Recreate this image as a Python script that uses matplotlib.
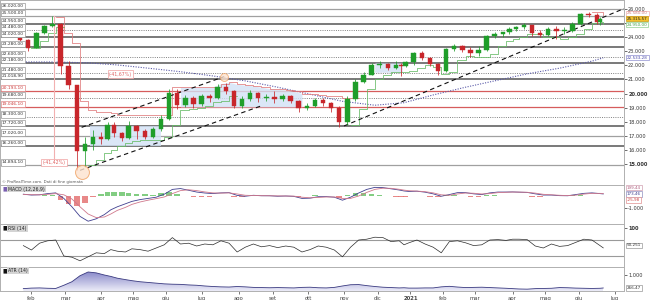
import numpy as np
import matplotlib
matplotlib.use("Agg")
import matplotlib.pyplot as plt
from matplotlib.patches import Rectangle
from matplotlib.colors import LinearSegmentedColormap

# trading-day axis (Borsa Italiana), index 0 = 3 Feb 2020
START = "2020-02-03"
HOLIDAYS = ["2020-04-10", "2020-04-13", "2020-05-01", "2020-12-24", "2020-12-25",
            "2020-12-31", "2021-01-01", "2021-04-02", "2021-04-05"]

# weekly candles (last session of each week)
dates = ["2020-01-24", "2020-01-31", "2020-02-07", "2020-02-14", "2020-02-21", "2020-02-28", "2020-03-06", "2020-03-13", "2020-03-20", "2020-03-27",
         "2020-04-03", "2020-04-09", "2020-04-17", "2020-04-24", "2020-04-30", "2020-05-08", "2020-05-15", "2020-05-22", "2020-05-29", "2020-06-05",
         "2020-06-12", "2020-06-19", "2020-06-26", "2020-07-03", "2020-07-10", "2020-07-17", "2020-07-24", "2020-07-31", "2020-08-07", "2020-08-14",
         "2020-08-21", "2020-08-28", "2020-09-04", "2020-09-11", "2020-09-18", "2020-09-25", "2020-10-02", "2020-10-09", "2020-10-16", "2020-10-23",
         "2020-10-30", "2020-11-06", "2020-11-13", "2020-11-20", "2020-11-27", "2020-12-04", "2020-12-11", "2020-12-18", "2020-12-23", "2020-12-30",
         "2021-01-08", "2021-01-15", "2021-01-22", "2021-01-29", "2021-02-05", "2021-02-12", "2021-02-19", "2021-02-26", "2021-03-05", "2021-03-12",
         "2021-03-19", "2021-03-26", "2021-04-01", "2021-04-09", "2021-04-16", "2021-04-23", "2021-04-30", "2021-05-07", "2021-05-14", "2021-05-21",
         "2021-05-28", "2021-06-04", "2021-06-11", "2021-06-18", "2021-06-22"]
open0 = 23950
closes = [23800, 23250, 24300, 24800, 24950, 21980, 20600, 15950, 16450, 16900,
          16800, 17800, 17200, 16850, 17700, 17350, 16900, 17450, 18200, 20050,
          19200, 19650, 19250, 19800, 19650, 20450, 20150, 19100, 19600, 20050,
          19700, 19750, 19600, 19800, 19500, 18950, 19150, 19550, 19300, 19000,
          17950, 19600, 20850, 21350, 22050, 22100, 21800, 22000, 21950, 22250,
          22850, 22550, 22100, 21600, 23150, 23400, 23100, 22850, 23100, 24050,
          24250, 24350, 24600, 24750, 24850, 24300, 24150, 24600, 24450, 24450,
          24950, 25650, 25550, 25100, 25315.57]
highs = [24050, 23900, 24350, 24850, 25480, 25000, 22300, 20600, 16900, 17400,
         17300, 17950, 17950, 17300, 18050, 17800, 17450, 17650, 18450, 20350,
         20300, 19900, 19800, 19950, 20000, 20700, 20750, 20250, 19800, 20250,
         20100, 20000, 20200, 19950, 19900, 19550, 19350, 19650, 19700, 19400,
         19100, 19800, 21000, 21550, 22200, 22300, 22200, 22300, 22150, 22300,
         22950, 23050, 22600, 22200, 23200, 23550, 23450, 23300, 23400, 24150,
         24350, 24400, 24700, 24800, 25000, 24900, 24500, 24750, 24800, 24700,
         25050, 25750, 25800, 25750, 25400]
lows = [23600, 23000, 23200, 24250, 24750, 21400, 20300, 14600, 14800, 16000,
        16400, 16700, 16900, 16600, 16750, 16800, 16750, 16850, 17350, 18150,
        18900, 19050, 19000, 19100, 19400, 19600, 20000, 18950, 18950, 19500,
        19400, 19500, 19350, 19450, 19300, 18700, 18800, 19050, 19150, 18700,
        17650, 17800, 19500, 20750, 21300, 21800, 21700, 21750, 21250, 21900,
        22050, 22400, 21950, 21300, 21550, 23000, 22950, 22600, 22700, 23000,
        23950, 24000, 24250, 24450, 24600, 24050, 24000, 24050, 23900, 24250,
        24350, 24900, 25400, 24950, 24900]
nan = np.nan
red_band = [nan, nan, nan, nan, 25400, 24300, 23600, 19500, 18850, 18700,
            18700, 18600, 18500, 18500, 18500, 18500, 18500, 18500, 18500, 20450,
            20450, 20450, 20450, 20450, 20450, 20700, 20800, 20650, 20600, 20550,
            20450, 20350, 20300, 20250, 20150, 20000, 19950, 19900, 19850, 19800,
            19700, 19650, nan, nan, nan, nan, nan, nan, nan, nan,
            nan, nan, nan, nan, nan, nan, nan, nan, nan, nan,
            nan, nan, nan, nan, nan, nan, nan, nan, nan, nan,
            nan, nan, 25800, 25800, 25580]
green_band = [23300, 23200, 23700, 24300, 24700, nan, nan, nan, 14950, 15300,
              15800, 16000, 16300, 16500, 16600, 16700, 16700, 16700, 16900, 17800,
              18800, 18900, 18950, 19100, 19400, 19500, 19800, nan, nan, nan,
              nan, nan, nan, nan, nan, nan, nan, nan, nan, nan,
              nan, 17800, 18900, 20300, 21000, 21300, 21500, 21500, 21500, 21600,
              21800, 22000, 21900, 21400, 21500, 22400, 22700, 22600, 22600, 22800,
              23400, 23700, 23900, 24000, 24200, 24200, 24000, 24000, 23900, 24000,
              24200, 24600, 25000, 25100, 24950]
ma_dates = ["2020-01-24", "2020-02-21", "2020-03-20", "2020-04-17", "2020-05-15", "2020-06-12", "2020-07-10",
            "2020-08-07", "2020-09-04", "2020-10-02", "2020-10-30", "2020-11-27", "2020-12-23", "2021-01-22",
            "2021-02-19", "2021-03-19", "2021-04-16", "2021-05-14", "2021-06-11", "2021-06-22"]
ma200 = [22240, 22240, 22180, 22030, 21800, 21550, 21250, 20900, 20450, 19950,
         19450, 19170, 19350, 19900, 20450, 20950, 21400, 21800, 22300, 22533.28]

macd = [150, 80, 100, 200, 260, -200, -900, -1700, -2100, -1900,
        -1550, -1150, -900, -650, -450, -300, -200, -100, 150, 550,
        620, 480, 330, 250, 200, 260, 280, 50, -20, 60,
        20, 20, -20, 0, -30, -200, -180, -60, -50, -100,
        -350, -100, 250, 550, 720, 700, 600, 500, 420, 380,
        400, 320, 180, -20, 120, 280, 280, 180, 120, 260,
        330, 330, 340, 320, 300, 180, 80, 80, 30, 20,
        120, 220, 260, 200, 173.46]
signal = [120, 110, 100, 140, 200, 100, -250, -900, -1500, -1800,
          -1750, -1500, -1200, -950, -700, -500, -350, -220, -80, 200,
          450, 520, 450, 340, 260, 240, 260, 170, 60, 40,
          30, 20, 10, 0, -10, -100, -150, -120, -80, -80,
          -200, -200, 0, 300, 550, 650, 640, 560, 490, 440,
          410, 360, 260, 100, 60, 170, 250, 230, 170, 200,
          280, 310, 330, 325, 310, 240, 140, 100, 60, 35,
          70, 160, 220, 220, 199.44]
rsi = [56, 45, 62, 68, 70, 30, 27, 18, 28, 38,
       36, 46, 42, 40, 48, 46, 42, 50, 58, 76,
       60, 62, 55, 60, 58, 68, 62, 40, 52, 60,
       53, 56, 51, 55, 52, 40, 46, 55, 52, 45,
       28, 52, 70, 72, 77, 76, 66, 68, 58, 63,
       70, 60, 52, 38, 66, 68, 63, 56, 58, 70,
       71, 69, 72, 72, 71, 55, 50, 60, 54, 56,
       64, 72, 70, 56, 50.251]
atr = [230, 260, 270, 250, 240, 420, 620, 960, 1170, 1120,
       1000, 920, 820, 740, 680, 620, 580, 540, 500, 480,
       470, 440, 420, 380, 350, 330, 320, 350, 330, 300,
       290, 280, 290, 280, 270, 300, 310, 280, 270, 300,
       380, 450, 460, 400, 350, 310, 290, 270, 280, 260,
       260, 270, 270, 330, 360, 320, 290, 300, 310, 290,
       270, 250, 230, 210, 200, 230, 240, 250, 290, 280,
       260, 250, 240, 250, 266.47]

# horizontal levels: price, style
levels = [(26020.00, "g"), (25500.00, "g"), (24950.00, "d"), (24480.00, ":"), (24020.00, "d"),
          (23280.00, "d"), (22600.00, ":"), (22180.00, "d"), (21480.00, ":"), (21018.90, "d"),
          (20193.10, "r"), (19680.00, ":"), (19046.10, "r"), (18300.00, ":"), (17720.00, "d"),
          (17020.00, "g"), (16260.00, "d"), (14894.10, "g")]
trendlines = [(("2020-03-16", "2020-07-21"), (17600, 21200)),
              (("2020-03-13", "2020-08-21"), (14550, 19130)),
              (("2020-11-02", "2021-07-09"), (17700, 26040))]
month_starts = ["2020-02-01", "2020-03-01", "2020-04-01", "2020-05-01", "2020-06-01", "2020-07-01",
                "2020-08-01", "2020-09-01", "2020-10-01", "2020-11-01", "2020-12-01", "2021-01-01",
                "2021-02-01", "2021-03-01", "2021-04-01", "2021-05-01", "2021-06-01", "2021-07-01"]
month_names = ["feb", "mar", "apr", "mag", "giu", "lug", "ago", "set", "ott", "nov", "dic", "2021",
               "feb", "mar", "apr", "mag", "giu", "lug"]


def tday(d):
    return np.busday_count(START, np.asarray(d, dtype="datetime64[D]"), holidays=HOLIDAYS).astype(float)


def it(v, d=2):
    s = f"{v:,.{d}f}"
    return s.replace(",", "X").replace(".", ",").replace("X", ".")


GREEN, RED = "#1f9e2a", "#c8262b"
SPINE = "#b0b0b0"
x = tday(dates)
xc = x - 2
closes = np.array(closes, float); highs = np.array(highs, float); lows = np.array(lows, float)
opens = np.r_[open0, closes[:-1]]
red_band = np.array(red_band, float); green_band = np.array(green_band, float)
XL = (-20.4, 364.8)

W, H = 650, 300
fig = plt.figure(figsize=(W / 100, H / 100), dpi=100)


def panel(top, bot):
    a = fig.add_axes([0, 1 - bot / H, 624 / W, (bot - top) / H])
    a.set_xlim(*XL)
    for s in a.spines.values():
        s.set_color(SPINE); s.set_linewidth(0.7)
    a.tick_params(axis="x", bottom=False, labelbottom=False)
    a.yaxis.tick_right()
    a.tick_params(axis="y", labelsize=3.6, length=2, pad=1, colors="#333333", width=0.5)
    return a


def rbox(a, val, text, fc="white", ec="#999999", tc="#333333"):
    # value tag on the right axis; val is where the tag sits
    a.annotate(text, xy=(1, val), xycoords=("axes fraction", "data"), xytext=(3, 0),
               textcoords="offset pixels", ha="left", va="center", fontsize=3.0, color=tc,
               bbox=dict(boxstyle="square,pad=0.15", fc=fc, ec=ec, lw=0.5), annotation_clip=False, zorder=10)


def header(a, text, sq):
    a.text(0.004, 0.96, "■", transform=a.transAxes, fontsize=4, color=sq, va="top", ha="left", zorder=10)
    a.text(0.013, 0.96, text, transform=a.transAxes, fontsize=3.3, color="#222222", va="top", ha="left",
           bbox=dict(boxstyle="square,pad=0.2", fc="#d4d4d4", ec="none"), zorder=10)


# ---------------- main price panel ----------------
ax = panel(0, 185)
ax.set_ylim(13509, 26639)
styles = {"g": dict(color="#a0a0a0", lw=0.9), "d": dict(color="#555555", lw=1.1),
          "r": dict(color="#d65c5c", lw=0.9), ":": dict(color="#808080", lw=0.7, ls=(0, (1, 1.3)))}
for p, st in levels:
    ax.axhline(p, zorder=1, **styles[st])
    red = st == "r"
    ax.annotate(it(p), xy=(0, p), xycoords=("axes fraction", "data"), xytext=(2, 3), textcoords="offset pixels",
                ha="left", va="center", fontsize=3.2, color="#cc3b3b" if red else "#333333",
                bbox=dict(boxstyle="square,pad=0.25", fc="white", ec="#e08a8a" if red else "#9a9a9a", lw=0.5),
                zorder=12)

# shaded zones
ax.add_patch(Rectangle((tday("2020-03-23"), 16290), tday("2020-05-27") - tday("2020-03-23"), 1430,
                       fc="#d3e2f5", ec="none", alpha=0.8, zorder=1))
sel = (x >= tday("2020-06-12")) & (x <= tday("2020-09-25"))
ax.fill_between(x[sel], red_band[sel], 19046.1, color="#d3e2f5", alpha=0.8, lw=0, zorder=1)
ax.add_patch(Rectangle((tday("2020-11-27"), 21530), tday("2020-12-22") - tday("2020-11-27"), 660,
                       fc="#d3e2f5", ec="#b8b8e0", lw=0.4, ls=":", alpha=0.8, zorder=1))

# moving average and bands
ax.plot(tday(ma_dates), ma200, color="#5a5aa8", lw=0.8, ls=(0, (1, 1.3)), zorder=2)
ax.plot(x, red_band, color="#e07a7c", lw=0.55, drawstyle="steps-post", zorder=2)
ax.plot(x, green_band, color="#66bb66", lw=0.55, drawstyle="steps-post", zorder=2)

# trendlines
for (d0, d1), (p0, p1) in trendlines:
    ax.plot(tday([d0, d1]), [p0, p1], color="#111111", lw=0.8, ls=(0, (4, 3)), zorder=3)

# candles
up = closes >= opens
cols = np.where(up, GREEN, RED)
ax.vlines(xc, lows, highs, colors=cols, lw=0.55, zorder=4)
ax.bar(xc, np.maximum(np.abs(closes - opens), 40), bottom=np.minimum(opens, closes), width=2.8,
       color=cols, edgecolor=cols, lw=0.3, zorder=5)

# crash measurement and markers
xm = tday("2020-02-20")
ax.plot([xm, xm], [25480, 14894.1], color="#f2b0b0", lw=0.8, zorder=2)
ax.text(xm, 15100, "(-41,42%)", fontsize=3.3, color="#e06060", ha="center", va="center", zorder=12,
        bbox=dict(boxstyle="square,pad=0.25", fc="white", ec="#f0a0a0", lw=0.5))
ax.text(tday("2020-04-21"), 21380, "(-41,67%)", fontsize=3.3, color="#e06060", ha="center", va="center", zorder=12,
        bbox=dict(boxstyle="square,pad=0.25", fc="white", ec="#f0a0a0", lw=0.5))
ax.scatter([tday("2020-03-16")], [14430], s=100, fc="#fde3cf", ec="#f0a060", lw=0.7, alpha=0.8, zorder=6)
ax.scatter([tday("2020-07-21")], [21170], s=33, fc="#fde3cf", ec="#f0a060", lw=0.6, alpha=0.8, zorder=6)

ax.text(0.004, 0.005, "© ProRealTime.com. Dati di fine giornata", transform=ax.transAxes, fontsize=2.8,
        color="#555555", va="bottom", ha="left", zorder=12)

pt = np.arange(15000, 26001, 1000)
ax.set_yticks(pt)
ax.set_yticklabels([it(v, 0) for v in pt])
for lab, v in zip(ax.get_yticklabels(), pt):
    if v % 5000 == 0:
        lab.set_fontweight("bold")
    if v == 25000:
        lab.set_visible(False)
rbox(ax, 25700, it(25580.00), ec="#f0b0b0", tc="#d08080")
rbox(ax, closes[-1], it(closes[-1]), fc="#f2c12e", ec="#c89a10", tc="#222222")
rbox(ax, 24900, it(24950.00), ec="#90d090", tc="#40a040")
rbox(ax, ma200[-1], it(ma200[-1]), ec="#9090d0", tc="#4a4aa8")

# ---------------- MACD ----------------
am = panel(185, 224)
am.set_ylim(-2333, 917)
macd = np.array(macd, float); signal = np.array(signal, float)
hist = macd - signal
am.bar(xc, hist, width=3.4, color=np.where(hist >= 0, "#6cc56c", "#e57373"), lw=0, alpha=0.85, zorder=2)
am.plot(x, macd, color="#3f3f8f", lw=0.6, zorder=3)
am.plot(x, signal, color="#d0788c", lw=0.6, zorder=3)
am.set_yticks([-1000]); am.set_yticklabels(["-1.000"])
header(am, "MACD (12,26,9)", "#7a5fb0")
rbox(am, 680, it(signal[-1]), ec="#d0a0b0", tc="#b06080")
rbox(am, macd[-1], it(macd[-1]), ec="#9090c0", tc="#3f3f8f")
rbox(am, -340, it(hist[-1]), ec="#e09090", tc="#cc4444")

# ---------------- RSI ----------------
ar = panel(224, 267)
ar.set_ylim(2.5, 110)
ar.axhline(70, color="#9a9a9a", lw=0.8, zorder=1)
ar.axhline(30, color="#9a9a9a", lw=0.8, zorder=1)
ar.plot(x, rsi, color="#2b2b2b", lw=0.5, zorder=3)
ar.set_yticks([100]); ar.set_yticklabels(["100"])
ar.get_yticklabels()[0].set_fontweight("bold")
header(ar, "RSI (14)", "#111111")
rbox(ar, rsi[-1] + 6, it(rsi[-1], 3))

# ---------------- ATR ----------------
aa = panel(267, 291)
atr = np.array(atr, float)
fill = aa.fill_between(x, atr, 96, color="none", lw=0)
grad = np.linspace(0, 1, 256).reshape(-1, 1)
cmap = LinearSegmentedColormap.from_list("atr", ["#ececf8", "#8686c8"])
im = aa.imshow(grad, extent=[x[0], x[-1], 96, atr.max()], origin="lower", aspect="auto", cmap=cmap, zorder=1)
im.set_clip_path(fill.get_paths()[0], transform=aa.transData)
aa.plot(x, atr, color="#3a3a80", lw=0.6, zorder=3)
aa.set_xlim(*XL)
aa.set_ylim(96, 1452)
aa.set_yticks([1000]); aa.set_yticklabels(["1.000"])
header(aa, "ATR (14)", "#111111")
rbox(aa, atr[-1], it(atr[-1]))

mx = tday(month_starts)
aa.set_xticks(mx)
aa.set_xticklabels(month_names)
aa.tick_params(axis="x", bottom=True, labelbottom=True, labelsize=3.8, length=2, pad=1.5, colors="#444444", width=0.5)
for lab, n in zip(aa.get_xticklabels(), month_names):
    if n == "2021":
        lab.set_fontweight("bold")

fig.savefig("out.png", dpi=100)
